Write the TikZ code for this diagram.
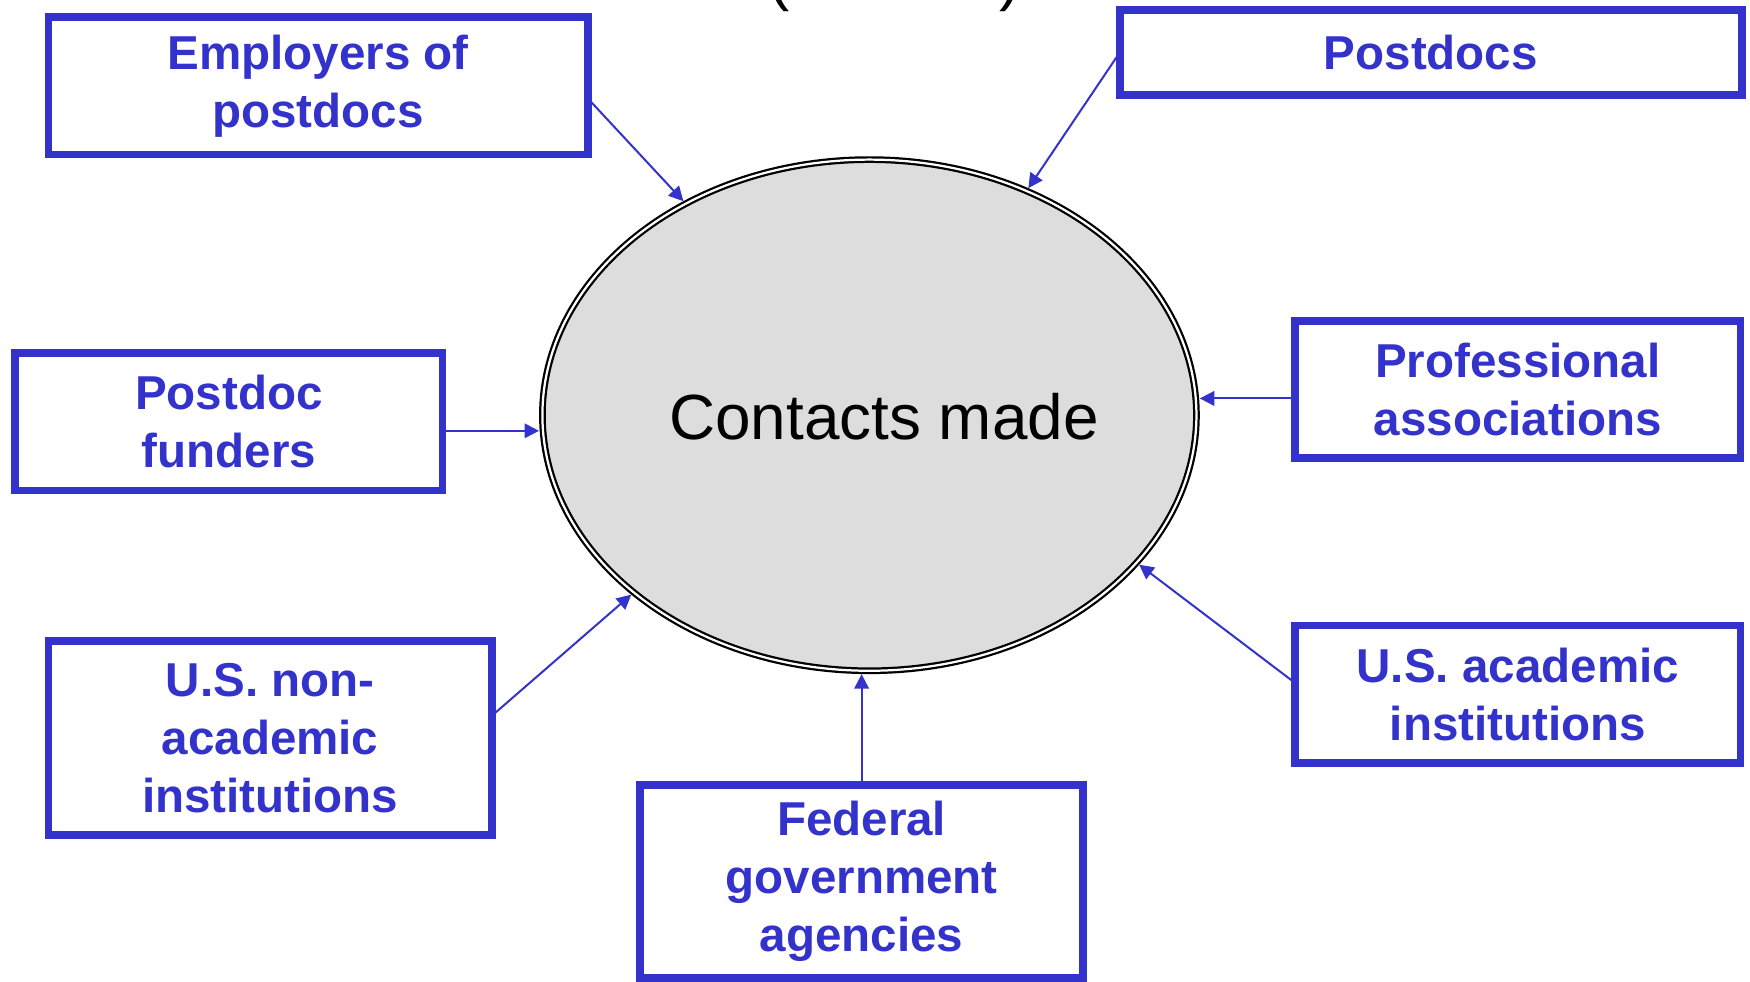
\documentclass[tikz,border=0pt]{standalone}
\usepackage{fontspec}
\setmainfont{Liberation Sans}
\usetikzlibrary{shapes.geometric,arrows.meta,calc}
\definecolor{boxblue}{HTML}{3333CC}
\definecolor{ellgrey}{HTML}{DDDDDD}
\tikzset{
  srcbox/.style={draw=boxblue, line width=3.5pt, rectangle, inner sep=0pt, outer sep=0pt,
    align=center, text=boxblue, font=\bfseries\fontsize{21.3}{26}\selectfont},
  conn/.style={draw=boxblue, line width=0.9pt, -{Triangle[length=6.5pt,width=6.5pt]}},
}
\begin{document}
\begin{tikzpicture}[x=0.5pt, y=-0.5pt]
\useasboundingbox (0,0) rectangle (1568,879);
% partially visible title parentheses
\node[anchor=base, inner sep=0pt, font=\fontsize{28.6}{34}\selectfont] (lpar) at (698,-1) {(};
\node[anchor=base, inner sep=0pt, font=\fontsize{28.6}{34}\selectfont] (rpar) at (905,-1) {)};
% central ellipse
\node[ellipse, draw=black, line width=1pt, double=white, double distance=1pt, fill=ellgrey,
  minimum width=293pt, minimum height=229pt, inner sep=0pt, outer sep=1.5pt] (ell) at (779,372) {};
\node[inner sep=0pt, font=\fontsize{28.6}{34}\selectfont] (lbl) at (792,373) {Contacts made};
% boxes
\node[srcbox, minimum width=241.5pt, minimum height=61.5pt] (emp) at (285,77) {Employers of\\postdocs};
\node[srcbox, minimum width=278.7pt, minimum height=38pt] (pdocs) at (1282,47) {Postdocs};
\node[srcbox, minimum width=191.5pt, minimum height=61.5pt] (fund) at (205,378) {Postdoc\\funders};
\node[srcbox, minimum width=199.5pt, minimum height=61.5pt] (prof) at (1360,349) {Professional\\associations};
\node[srcbox, minimum width=198.5pt, minimum height=87pt] (nonac) at (242,661.5) {U.S. non-\\academic\\institutions};
\node[srcbox, minimum width=199.5pt, minimum height=61.5pt] (acad) at (1360,622) {U.S. academic\\institutions};
\node[srcbox, minimum width=198.5pt, minimum height=86.5pt] (fed) at (772,790) {Federal\\government\\agencies};
% connector start points
\coordinate (fs) at ($(fund.east)+(0,8)$);
\coordinate (ps) at ($(prof.west)+(0,8)$);
% connectors
\draw[conn] ($(emp.east)+(0,11)$) -- (ell.131.5);
\draw[conn] (pdocs.west) -- (ell.55.7);
\draw[conn] (fs) -- (fs -| ell.west);
\draw[conn] (ps) -- (ps -| ell.east);
\draw[conn] ($(nonac.east)+(0,-20)$) -- (ell.217.3);
\draw[conn] ($(acad.west)+(0,-10)$) -- (ell.331.5);
\draw[conn] (fed.north) -- (fed.north |- ell.south);
\end{tikzpicture}
\end{document}
